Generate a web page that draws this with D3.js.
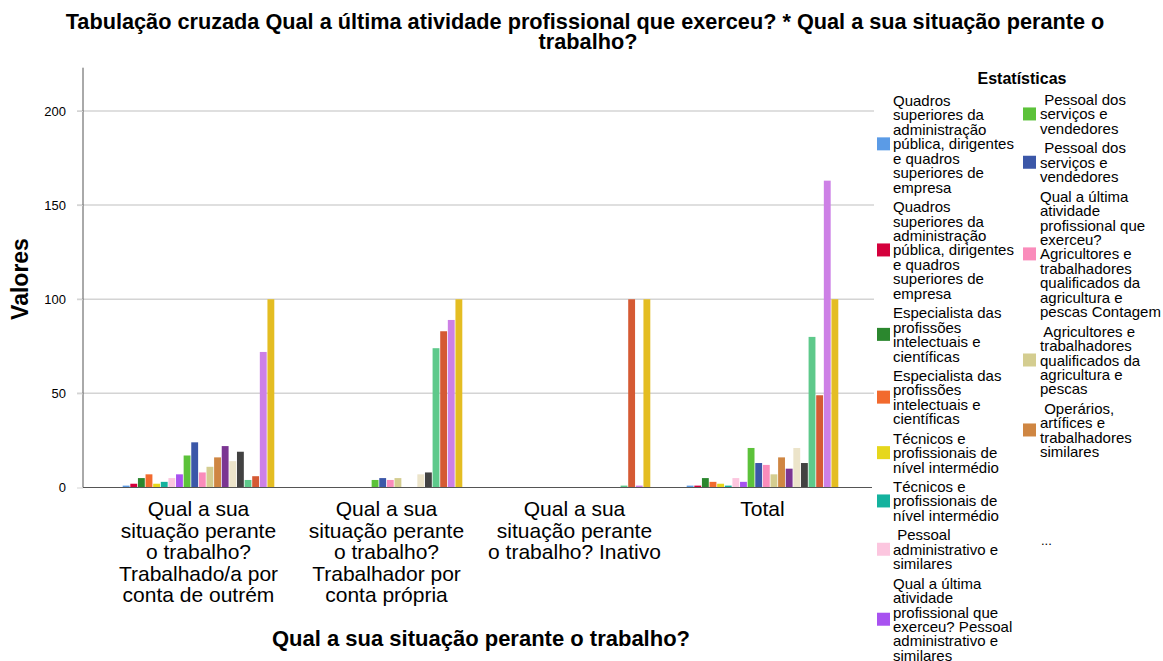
<!DOCTYPE html>
<html lang="pt">
<head>
  <meta charset="UTF-8">
  <title>Tabulação cruzada</title>
  <script src="https://d3js.org/d3.v7.min.js"></script>
  <style>
    body { margin: 0; background: #fff; }
    text { font-family: "Liberation Sans", Arial, sans-serif; fill: #000; }
  </style>
</head>
<body>
  <div id="root"></div>
  <script>
    // categorias do eixo X (quebras de linha como no original)
    const categories = [
      'Qual a sua\nsituação perante\no trabalho?\nTrabalhado/a por\nconta de outrém',
      'Qual a sua\nsituação perante\no trabalho?\nTrabalhador por\nconta própria',
      'Qual a sua\nsituação perante\no trabalho? Inativo',
      'Total'
    ]

    const seriesNames = [
      'Quadros superiores da administração pública, dirigentes e quadros superiores de empresa',
      'Quadros superiores da administração pública, dirigentes e quadros superiores de empresa',
      'Especialista das profissões intelectuais e científicas',
      'Especialista das profissões intelectuais e científicas',
      'Técnicos e profissionais de nível intermédio',
      'Técnicos e profissionais de nível intermédio',
      ' Pessoal administrativo e similares',
      'Qual a última atividade profissional que exerceu? Pessoal administrativo e similares',
      ' Pessoal dos serviços e vendedores',
      ' Pessoal dos serviços e vendedores',
      'Qual a última atividade profissional que exerceu? Agricultores e trabalhadores qualificados da agricultura e pescas Contagem',
      ' Agricultores e trabalhadores qualificados da agricultura e pescas',
      ' Operários, artífices e trabalhadores similares',
      ' Operários, artífices e trabalhadores similares',
      'Operadores de instalações e máquinas e trabalhadores da montagem',
      'Operadores de instalações e máquinas e trabalhadores da montagem',
      'Trabalhadores não qualificados',
      'Trabalhadores não qualificados',
      'Total',
      'Total'
    ]
    const legendShown = 13

    const seriesColors = [
      '#5b9be6', '#d4003c', '#2b872e', '#f26a2e', '#e6d71c', '#14b29e', '#fcc6df', '#a852f0',
      '#5cc23a', '#3b57a8', '#fa8cbb', '#d4cd90', '#cf8642', '#7b3592', '#ece4ca', '#424242',
      '#5ec98b', '#d55a34', '#cd80e6', '#e4bd22'
    ]

    // valores por categoria (um valor por série)
    const trabalhadoOutrem = [1, 2, 5, 7, 2, 3, 5, 7, 17, 24, 8, 11, 16, 22, 14, 19, 4, 6, 72, 100]
    const trabalhadorPropria = [0, 0, 0, 0, 0, 0, 0, 0, 4, 5, 4, 5, 0, 0, 7, 8, 74, 83, 89, 100]
    const inativo = [0, 0, 0, 0, 0, 0, 0, 0, 0, 0, 0, 0, 0, 0, 0, 0, 1, 100, 1, 100]
    const total = [1, 1, 5, 3, 2, 1, 5, 3, 21, 13, 12, 7, 16, 10, 21, 13, 80, 49, 163, 100]
    const values = [trabalhadoOutrem, trabalhadorPropria, inativo, total]

    const yTicks = [0, 50, 100, 150, 200]

    const W = 1163, H = 661
    const svg = d3.select('#root').append('svg')
      .attr('width', W).attr('height', H)
      .style('background', '#fff')

    const x0 = d3.scaleBand().domain(d3.range(categories.length)).range([104.5, 856.5])
    const x1 = d3.scaleBand().domain(d3.range(seriesNames.length))
      .range([18.2, 169.8]).paddingInner(0.1)
    const y = d3.scaleLinear().domain([0, 223]).range([487.5, 67.7])

    // grelha
    svg.append('g').selectAll('line').data(yTicks.filter(d => d > 0)).join('line')
      .attr('x1', 77).attr('x2', 874)
      .attr('y1', d => y(d)).attr('y2', d => y(d))
      .attr('stroke', '#d4d4d4').attr('stroke-width', 1.5)

    // barras
    const groups = svg.append('g').selectAll('g').data(values).join('g')
      .attr('transform', (d, i) => `translate(${x0(i)},0)`)
    groups.selectAll('rect').data(d => d.map((v, s) => ({ v, s }))).join('rect')
      .filter(d => d.v > 0)
      .attr('x', d => x1(d.s))
      .attr('width', x1.bandwidth())
      .attr('y', d => y(d.v))
      .attr('height', d => y(0) - y(d.v))
      .attr('fill', d => seriesColors[d.s])

    // eixos
    const axisY = svg.append('g').attr('transform', 'translate(83,0)')
      .call(d3.axisLeft(y).tickValues(yTicks).tickSize(6).tickPadding(11))
    axisY.select('.domain').attr('stroke', '#555').attr('d', `M0,${y(223)}V${y(0)}`)
    axisY.selectAll('.tick line').attr('stroke', '#d4d4d4')
    axisY.selectAll('.tick text').style('font-size', '13px').attr('fill', '#222')
      .style('font-family', '"Liberation Sans", Arial, sans-serif')

    svg.append('line').attr('x1', 83).attr('x2', 872)
      .attr('y1', y(0)).attr('y2', y(0)).attr('stroke', '#555').attr('stroke-width', 1.2)

    // rótulos das categorias
    const catLabels = svg.append('g').selectAll('text').data(categories).join('text')
      .attr('text-anchor', 'middle')
      .style('font-size', '21px')
      .attr('fill', '#222')
    catLabels.each(function (d, i) {
      const t = d3.select(this)
      d.split('\n').forEach((line, k) => {
        t.append('tspan').attr('x', x0(i) + x0.bandwidth() / 2)
          .attr('y', 516 + k * 21.6).text(line)
      })
    })

    // títulos
    const title = svg.append('text').attr('text-anchor', 'middle')
      .style('font-size', '21.7px').style('font-weight', 'bold')
    title.append('tspan').attr('x', 585).attr('y', 29)
      .text('Tabulação cruzada Qual a última atividade profissional que exerceu? * Qual a sua situação perante o')
    title.append('tspan').attr('x', 588).attr('y', 49).text('trabalho?')

    svg.append('text').attr('text-anchor', 'middle')
      .attr('transform', 'translate(28,279) rotate(-90)')
      .style('font-size', '23px').style('font-weight', 'bold')
      .text('Valores')

    svg.append('text').attr('x', 481).attr('y', 646).attr('text-anchor', 'middle')
      .style('font-size', '22px').style('font-weight', 'bold')
      .text('Qual a sua situação perante o trabalho?')

    // legenda
    const legend = svg.append('g')
    legend.append('text').attr('x', 1022).attr('y', 84).attr('text-anchor', 'middle')
      .style('font-size', '16px').style('font-weight', 'bold').text('Estatísticas')

    const lineH = 14.45, entryGap = 19.4, maxW = 124
    const measure = legend.append('text').style('font-size', '15px').attr('xml:space', 'preserve')
    function wrap(str) {
      const words = str.split(' ')
      const lines = []
      let cur = ''
      words.forEach((w, i) => {
        const test = i === 0 ? w : cur + ' ' + w
        measure.text(test)
        if (cur !== '' && cur !== ' ' && measure.node().getComputedTextLength() > maxW) {
          lines.push(cur)
          cur = w
        } else {
          cur = test
        }
      })
      lines.push(cur)
      return lines
    }

    const cols = [
      { sx: 877, tx: 893, y0: 106, items: d3.range(0, 8) },
      { sx: 1023, tx: 1040, y0: 105, items: d3.range(8, legendShown) }
    ]
    cols.forEach(col => {
      let by = col.y0
      col.items.forEach(s => {
        const lines = wrap(seriesNames[s])
        const last = by + (lines.length - 1) * lineH
        legend.append('rect').attr('x', col.sx).attr('y', (by + last) / 2 - 5.5 - 6.5)
          .attr('width', 13).attr('height', 13).attr('fill', seriesColors[s])
        const t = legend.append('text').style('font-size', '15px').attr('xml:space', 'preserve')
          .attr('fill', '#222')
        lines.forEach((l, k) => {
          t.append('tspan').attr('x', col.tx).attr('y', by + k * lineH).text(l)
        })
        by = last + entryGap
      })
    })
    measure.remove()

    legend.append('text').attr('x', 1041).attr('y', 545).style('font-size', '13px')
      .attr('fill', '#444').text('...')
  </script>
</body>
</html>
